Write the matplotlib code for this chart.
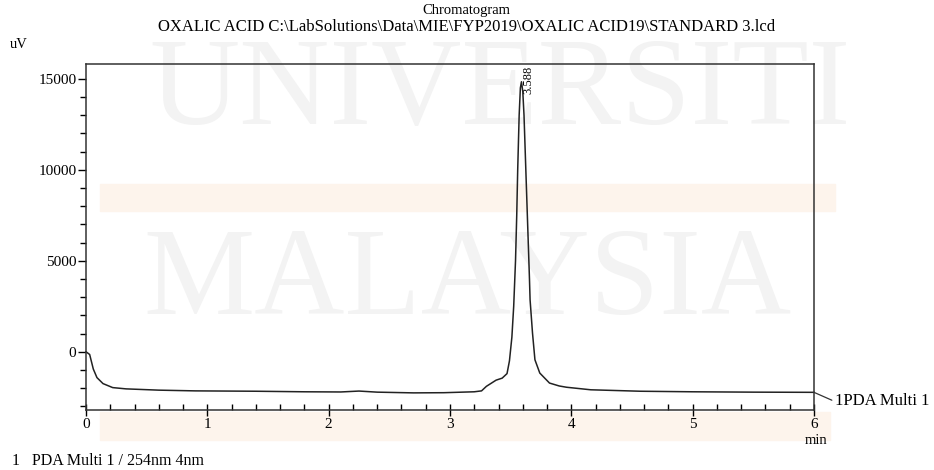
#!/usr/bin/env python3
"""Chromatogram of the oxalic acid standard (PDA Multi 1 / 254nm)."""
import matplotlib
matplotlib.use("Agg")
import matplotlib.pyplot as plt
from matplotlib.ticker import MultipleLocator

plt.rcParams["font.family"] = ["Liberation Serif", "DejaVu Serif"]

# retention time (min) and detector signal (uV)
time_min = [0.00, 0.03, 0.06, 0.09, 0.14, 0.22, 0.33, 0.60, 0.90, 1.40,
            1.80, 2.10, 2.25, 2.40, 2.70, 2.95, 3.20, 3.26, 3.30, 3.34,
            3.38, 3.43, 3.47, 3.49, 3.51, 3.525, 3.54, 3.55, 3.558, 3.57,
            3.58, 3.589, 3.60, 3.61, 3.625, 3.64, 3.655, 3.66, 3.68, 3.70,
            3.74, 3.82, 3.90, 3.96, 4.16, 4.57, 5.00, 5.50, 6.00]
signal_uv = [0, -150, -950, -1420, -1750, -1970, -2040, -2110, -2150, -2170,
             -2200, -2210, -2160, -2220, -2260, -2250, -2200, -2150, -1900, -1730,
             -1560, -1450, -1200, -500, 800, 2500, 5000, 7500, 10000, 13000,
             14500, 14840, 14300, 13000, 10000, 7000, 4000, 2860, 1030, -440,
             -1170, -1720, -1880, -1950, -2090, -2170, -2200, -2220, -2230]
peak_time = 3.588
y_ticks = [0, 5000, 10000, 15000]
title_lines = ["Chromatogram",
               "OXALIC ACID C:\\LabSolutions\\Data\\MIE\\FYP2019\\OXALIC ACID19\\STANDARD 3.lcd"]
trace_label = "1PDA Multi 1"
footnote = "1   PDA Multi 1 / 254nm 4nm"

fig = plt.figure(figsize=(9.34, 4.70), dpi=100)

# faint scan watermark behind everything
wm = dict(color="#f3f3f3", fontsize=90, ha="center", va="center", zorder=0)
fig.text(0.535, 0.80, "UNIVERSITI", **wm)
fig.text(0.50, 0.395, "MALAYSIA", **wm)
fig.patches.append(plt.Rectangle((0.107, 0.551), 0.787, 0.057, transform=fig.transFigure,
                                 color="#fdf4ec", zorder=0))
fig.patches.append(plt.Rectangle((0.107, 0.064), 0.782, 0.059, transform=fig.transFigure,
                                 color="#fdf4ec", zorder=0))

ax = fig.add_axes([0.0921, 0.1277, 0.7794, 0.7355])
ax.set_zorder(2)
ax.set_facecolor("none")
ax.plot(time_min, signal_uv, color="#222222", lw=1.1, clip_on=False)
ax.text(peak_time + 0.06, 0.995, f"{peak_time:.3f}", rotation=90,
        transform=ax.get_xaxis_transform(), ha="center", va="top", fontsize=9)

ax.set_xlim(0, 6)
ax.set_ylim(-3200, 15800)
ax.set_yticks(y_ticks)
ax.xaxis.set_major_locator(MultipleLocator(1))
ax.xaxis.set_minor_locator(MultipleLocator(0.2))
ax.yaxis.set_minor_locator(MultipleLocator(1000))
ax.tick_params(axis="x", which="major", direction="inout", length=8, width=1, labelsize=11, pad=2)
ax.tick_params(axis="x", which="minor", direction="in", length=4, width=1)
ax.tick_params(axis="y", which="major", direction="out", length=6, width=1, labelsize=11, pad=1)
ax.tick_params(axis="y", which="minor", direction="out", length=4, width=1)
for s in ax.spines.values():
    s.set_linewidth(1.1)
    s.set_color("#333333")

# trace label with small leader line off the right edge
ax.annotate(trace_label, xy=(6.0, signal_uv[-1]), xytext=(6.17, signal_uv[-1] - 500),
            fontsize=12, va="center", ha="left", annotation_clip=False,
            arrowprops=dict(arrowstyle="-", color="#333333", lw=0.9,
                            shrinkA=0, shrinkB=0, relpos=(0, 0.5)))

fig.text(0.499, 0.978, title_lines[0], ha="center", va="center", fontsize=10.5)
fig.text(0.499, 0.943, title_lines[1], ha="center", va="center", fontsize=12)
fig.text(0.011, 0.905, "uV", ha="left", va="center", fontsize=10.5)
fig.text(0.874, 0.062, "min", ha="center", va="center", fontsize=10.5)
fig.text(0.013, 0.019, footnote, ha="left", va="center", fontsize=11.5)

fig.savefig("out.png", dpi=100)
